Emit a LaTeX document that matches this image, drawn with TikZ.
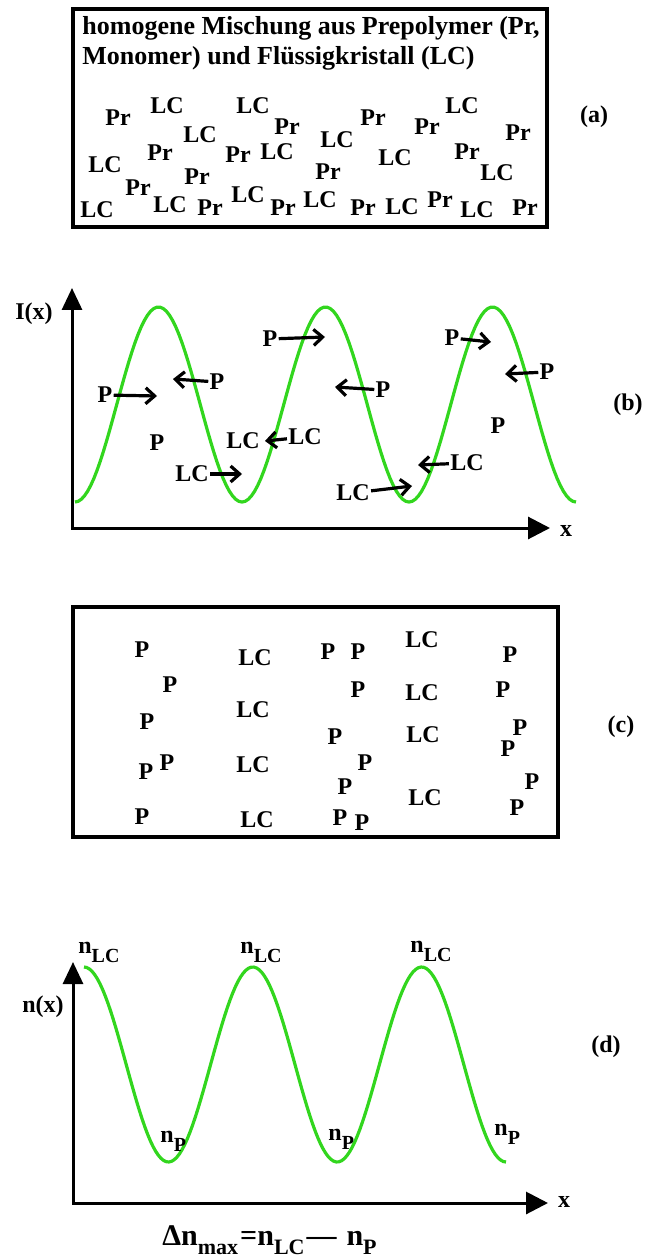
\documentclass[tikz,border=0pt]{standalone}
\usepackage{fontspec}
\setmainfont{Liberation Serif}
\usetikzlibrary{arrows.meta}
\definecolor{wavegreen}{RGB}{50,214,30}
\newcommand{\idx}[2][10]{\raisebox{-4.5pt}{\fontsize{#1}{#1}\selectfont #2}}
\tikzset{
    species/.style={
        inner sep=0.5pt,
        font=\fontsize{12}{14}\selectfont\bfseries
    },
    heading/.style={
        anchor=base west,
        inner sep=0pt,
        font=\fontsize{13}{15}\selectfont\bfseries
    },
    index label/.style={
        anchor=base west,
        inner sep=0pt,
        font=\fontsize{12}{14}\selectfont\bfseries
    },
    sample box/.style={
        line width=1.6pt,
        black
    },
    green wave/.style={
        line width=1.6pt,
        wavegreen
    },
    plot axis/.style={
        line width=1.5pt,
        line join=miter,
        {Triangle[length=11pt,width=10pt]}-{Triangle[length=11pt,width=11pt]}
    },
    drift arrow/.style={
        line width=1.6pt,
        -{Straight Barb[length=4.5pt,width=8pt,line width=1.6pt]}
    }
}
\begin{document}
\begin{tikzpicture}[x=0.5pt,y=-0.5pt]
    \useasboundingbox (0,0) rectangle (646,1256);

    \draw[sample box] (73,9) rectangle (547,227);
    \node[heading] (head1) at (82,35) {homogene Mischung aus Prepolymer (Pr,};
    \node[heading] (head2) at (82,65) {Monomer) und Flüssigkristall (LC)};
    \foreach \t/\x/\y [count=\i] in {Pr/118/118, LC/167/106, LC/253/106, Pr/287/127,
        LC/200/135, Pr/160/153, LC/337/140, Pr/373/118, Pr/427/127, LC/462/106,
        Pr/518/133, LC/105/165, Pr/238/155, LC/277/152, LC/395/158, Pr/467/152,
        Pr/328/172, LC/497/173, Pr/197/177, Pr/138/188, LC/97/210, LC/170/205,
        Pr/210/208, LC/248/195, Pr/283/208, LC/320/200, Pr/363/208, LC/402/207,
        Pr/440/200, LC/477/210, Pr/525/208}
        \node[species] (a\i) at (\x,\y) {\t};
    \node[species] (tag a) at (594,117) {(a)};

    \coordinate (b top) at (72,288);
    \coordinate (b end) at (550,528);
    \draw[plot axis] (b top) |- (b end);
    \node[species] (b ylabel) at (34,314) {I(x)};
    \node[species] (b xlabel) at (566,531) {x};
    \draw[green wave] plot[domain=75:576,samples=160] (\x,{404.5+97.5*cos(2.1557*(\x-75))});
    \foreach \t/\x/\y/\u/\v [count=\i] in {P/105/395/157/396, P/217/382/173/379,
        P/270/339/325/337, P/383/390/335/387, P/452/338/491/342, P/547/372/505/374,
        LC/192/474/242/474, LC/305/437/265/441, LC/353/493/412/486, LC/467/463/418/465}
    {
        \node[species] (b\i) at (\x,\y) {\t};
        \coordinate (b\i tip) at (\u,\v);
        \draw[drift arrow] (b\i) -- (b\i tip);
    }
    \node[species] (b rest1) at (157,443) {P};
    \node[species] (b rest2) at (243,441) {LC};
    \node[species] (b rest3) at (498,426) {P};
    \node[species] (tag b) at (628,405) {(b)};

    \draw[sample box, line width=1.8pt] (73,607) rectangle (558,837);
    \foreach \t/\x/\y [count=\i] in {P/142/650, P/170/685, P/147/722, P/146/772,
        P/167/763, P/142/817, LC/255/658, LC/253/710, LC/253/765, LC/257/820,
        P/328/652, P/358/652, P/358/690, P/335/737, P/365/763, P/345/787,
        P/340/818, P/362/823, LC/422/640, LC/422/693, LC/423/735, LC/425/798,
        P/510/655, P/503/690, P/520/728, P/508/749, P/532/782, P/517/808}
        \node[species] (c\i) at (\x,\y) {\t};
    \node[species] (tag c) at (621,727) {(c)};

    \coordinate (d top) at (73,962);
    \coordinate (d end) at (548,1203);
    \draw[plot axis] (d top) |- (d end);
    \node[species] (d ylabel) at (43,1007) {n(x)};
    \node[species] (d xlabel) at (564,1202) {x};
    \draw[green wave] plot[domain=84:506,samples=160] (\x,{1064.5-97.5*cos(2.1327*(\x-84))});
    \foreach \x/\y [count=\i] in {78/953, 240/953, 410/952}
        \node[index label] (nlc\i) at (\x,\y) {n\idx{LC}};
    \foreach \x/\y [count=\i] in {160/1142, 328/1140, 494/1135}
        \node[index label] (np\i) at (\x,\y) {n\idx{P}};
    \node[index label, font=\fontsize{15}{17}\selectfont\bfseries] (dn) at (162,1245)
        {Δn\idx[11]{max}\kern1pt=n\idx[11]{LC}\kern1pt—\kern5pt n\idx[11]{P}};
    \node[species] (tag d) at (606,1047) {(d)};
\end{tikzpicture}
\end{document}
